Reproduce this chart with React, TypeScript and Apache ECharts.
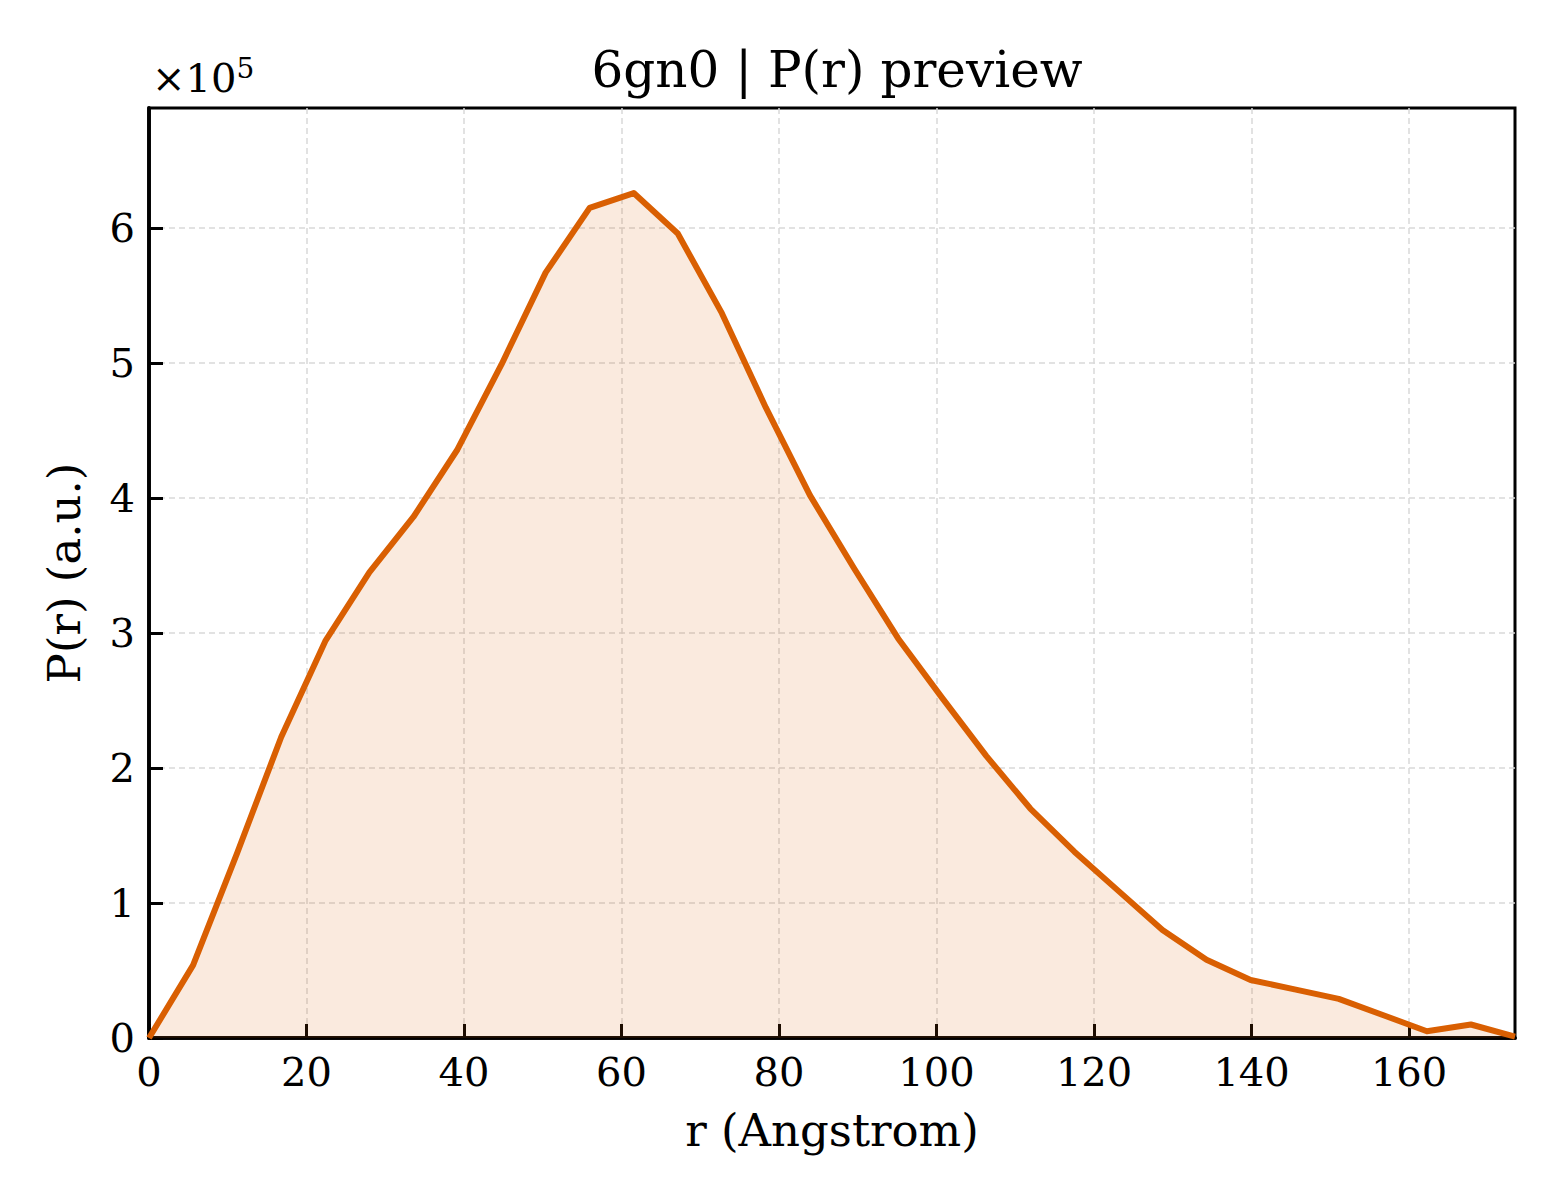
import { useEffect, useRef } from 'react'
import * as echarts from 'echarts'

// r in Angstrom, P(r) in units of 1e5
const rValues = [
  0, 5.6, 11.19, 16.79, 22.38, 27.98, 33.57, 39.17, 44.76, 50.36, 55.95, 61.55, 67.14, 72.74, 78.33,
  83.93, 89.52, 95.12, 100.71, 106.31, 111.9, 117.5, 123.09, 128.69, 134.28, 139.88, 145.47, 151.07,
  156.66, 162.26, 167.85, 173.45,
]
const prValues = [
  0, 0.54, 1.37, 2.23, 2.94, 3.45, 3.86, 4.36, 4.99, 5.67, 6.15, 6.26, 5.96, 5.37, 4.67, 4.02, 3.48,
  2.96, 2.52, 2.09, 1.7, 1.38, 1.09, 0.8, 0.58, 0.43, 0.36, 0.29, 0.17, 0.05, 0.1, 0.01,
]
const xMax = 173.45
const yMax = 6.89

const font = 'DejaVu Serif'
const lineColor = '#d95f02'

export default function App() {
  const ref = useRef<HTMLDivElement | null>(null)

  useEffect(() => {
    document.body.style.margin = '0'
    if (!ref.current) return
    const chart = echarts.init(ref.current, undefined, { renderer: 'svg' })
    chart.setOption(buildOption())
    return () => chart.dispose()
  }, [])

  return <div ref={ref} style={{ width: 1560, height: 1200, background: '#fff' }} />
}

function buildOption() {
  const axisText = { color: '#000', fontFamily: font, fontSize: 40 }
  const split = {
    show: true,
    showMinLine: false,
    showMaxLine: false,
    lineStyle: { color: '#d9d9d9', width: 1.5, type: [6, 4] as number[] },
  }
  const frame = { show: true, lineStyle: { color: '#000', width: 3.5 } }
  return {
    animation: false,
    backgroundColor: '#fff',
    title: {
      text: '6gn0 | P(r) preview',
      left: 832,
      top: 40,
      textAlign: 'center',
      textStyle: { fontFamily: font, fontSize: 50, fontWeight: 'normal', color: '#000' },
    },
    grid: {
      left: 149,
      right: 45,
      top: 108,
      bottom: 162,
      show: true,
      borderColor: '#000',
      borderWidth: 3,
    },
    graphic: [
      {
        type: 'text',
        left: 152,
        top: 54,
        style: {
          text: '{a|×10}{b|5}',
          rich: {
            a: { fontFamily: font, fontSize: 40, fill: '#000', verticalAlign: 'bottom' },
            b: { fontFamily: font, fontSize: 28, fill: '#000', verticalAlign: 'top', padding: [0, 0, 16, 0] },
          },
        },
      },
    ],
    xAxis: [
      {
        type: 'value',
        min: 0,
        max: xMax,
        interval: 20,
        name: 'r (Angstrom)',
        nameLocation: 'middle',
        nameGap: 70,
        nameTextStyle: { fontFamily: font, fontSize: 45, color: '#000' },
        axisLine: frame,
        axisTick: { show: true, inside: true, length: 14, lineStyle: { color: '#000', width: 3 } },
        axisLabel: { ...axisText, margin: 14, showMaxLabel: false },
        splitLine: split,
      },
      {
        type: 'value',
        position: 'top',
        min: 0,
        max: xMax,
        axisLine: frame,
        axisTick: { show: false },
        axisLabel: { show: false },
        splitLine: { show: false },
      },
    ],
    yAxis: [
      {
        type: 'value',
        min: 0,
        max: yMax,
        interval: 1,
        name: 'P(r) (a.u.)',
        nameLocation: 'middle',
        nameGap: 62,
        nameRotate: 90,
        nameTextStyle: { fontFamily: font, fontSize: 45, color: '#000' },
        axisLine: frame,
        axisTick: { show: true, inside: true, length: 14, lineStyle: { color: '#000', width: 3 } },
        axisLabel: { ...axisText, margin: 14, showMaxLabel: false },
        splitLine: split,
      },
      {
        type: 'value',
        position: 'right',
        min: 0,
        max: yMax,
        axisLine: frame,
        axisTick: { show: false },
        axisLabel: { show: false },
        splitLine: { show: false },
      },
    ],
    series: [
      {
        type: 'line',
        data: rValues.map((r, i) => [r, prValues[i]]),
        showSymbol: false,
        lineStyle: { color: lineColor, width: 6, join: 'round' },
        itemStyle: { color: lineColor },
        areaStyle: { color: lineColor, opacity: 0.13 },
      },
    ],
  }
}
